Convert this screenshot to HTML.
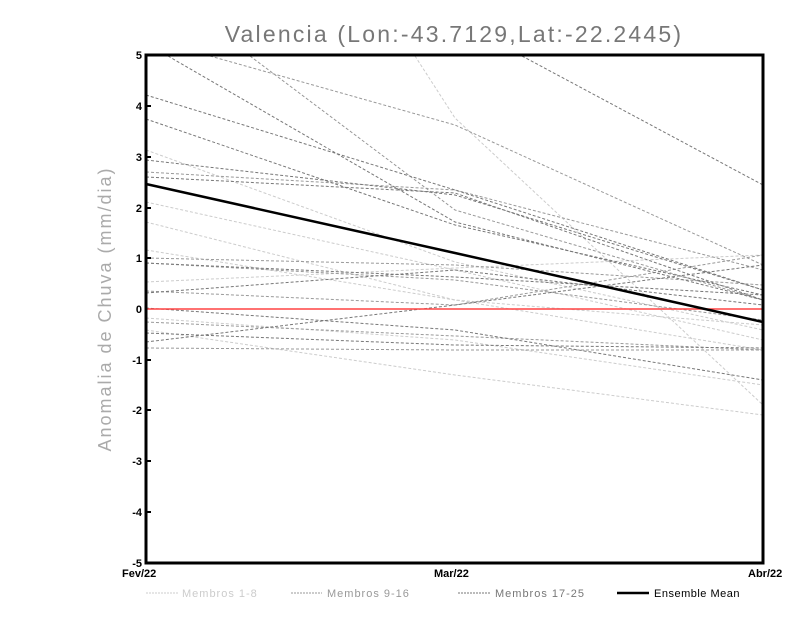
<!DOCTYPE html>
<html><head><style>body{margin:0;background:#fff}svg{display:block}text{font-family:"Liberation Sans",sans-serif}</style></head><body>
<svg width="800" height="618" viewBox="0 0 800 618" xmlns="http://www.w3.org/2000/svg">
<rect width="800" height="618" fill="#fff"/>
<text x="454" y="42" text-anchor="middle" font-size="23" fill="#777" letter-spacing="2.2">Valencia (Lon:-43.7129,Lat:-22.2445)</text>
<text transform="translate(111,309) rotate(-90)" text-anchor="middle" font-size="18" fill="#aaa" letter-spacing="2">Anomalia de Chuva (mm/dia)</text>
<g fill="none" stroke-width="1" stroke-dasharray="3,2">
<g stroke="#ccc">
<polyline points="415,56 455,118 763,405"/>
<polyline points="146,150 455,262 763,330"/>
<polyline points="146,202 455,270 763,340"/>
<polyline points="146,222 455,300 763,350"/>
<polyline points="146,282 455,268 763,255"/>
<polyline points="146,330 455,375 763,415"/>
<polyline points="146,318 455,340 763,385"/>
<polyline points="146,250 455,300 763,325"/>
</g>
<g stroke="#999">
<polyline points="210,56 455,125 763,265"/>
<polyline points="250,56 455,210 763,300"/>
<polyline points="146,172 455,190 763,270"/>
<polyline points="146,258 455,265 763,285"/>
<polyline points="146,291 455,305 763,255"/>
<polyline points="146,322 455,336 763,350"/>
<polyline points="146,348 455,350 763,350"/>
<polyline points="146,263 455,280 763,320"/>
</g>
<g stroke="#777">
<polyline points="168,56 455,222 763,300"/>
<polyline points="146,95 455,190 763,290"/>
<polyline points="146,119 455,225 763,295"/>
<polyline points="146,160 455,195 763,290"/>
<polyline points="146,177 455,193 763,300"/>
<polyline points="522,56 763,185"/>
<polyline points="146,263 455,277 763,295"/>
<polyline points="146,293 455,270 763,305"/>
<polyline points="146,333 455,345 763,348"/>
<polyline points="146,342 455,305 763,265"/>
<polyline points="146,308 455,330 763,380"/>
</g>
</g>
<line x1="146" y1="309" x2="763" y2="309" stroke="#f44" stroke-width="1.5"/>
<polyline points="146,184 455,253 763,322" fill="none" stroke="#000" stroke-width="2.5"/>
<rect x="146" y="55" width="617" height="508" fill="none" stroke="#000" stroke-width="3"/>
<g font-size="11" font-weight="bold" text-anchor="end" fill="#000">
<text x="142" y="59">5</text><text x="142" y="110">4</text><text x="142" y="161">3</text><text x="142" y="212">2</text><text x="142" y="262">1</text><text x="142" y="313">0</text><text x="142" y="364">-1</text><text x="142" y="414">-2</text><text x="142" y="465">-3</text><text x="142" y="516">-4</text><text x="142" y="567">-5</text>
</g>
<g stroke="#000" stroke-width="2">
<line x1="146" y1="106" x2="151" y2="106"/><line x1="146" y1="157" x2="151" y2="157"/><line x1="146" y1="208" x2="151" y2="208"/><line x1="146" y1="258" x2="151" y2="258"/><line x1="146" y1="360" x2="151" y2="360"/><line x1="146" y1="410" x2="151" y2="410"/><line x1="146" y1="461" x2="151" y2="461"/><line x1="146" y1="512" x2="151" y2="512"/>
</g>
<g font-size="11" font-weight="bold" fill="#000">
<text x="122" y="577">Fev/22</text><text x="434" y="577">Mar/22</text><text x="748" y="577">Abr/22</text>
</g>
<g font-size="11" letter-spacing="1">
<line x1="146" y1="593" x2="178" y2="593" stroke="#ccc" stroke-dasharray="2,1"/><text x="182" y="597" fill="#ccc">Membros 1-8</text>
<line x1="291" y1="593" x2="322" y2="593" stroke="#999" stroke-dasharray="2,1"/><text x="327" y="597" fill="#999">Membros 9-16</text>
<line x1="458" y1="593" x2="490" y2="593" stroke="#777" stroke-dasharray="2,1"/><text x="495" y="597" fill="#777">Membros 17-25</text>
<line x1="617" y1="593" x2="649" y2="593" stroke="#000" stroke-width="2.5"/><text x="654" y="597" fill="#000" letter-spacing="0.5">Ensemble Mean</text>
</g>
</svg>
</body></html>
